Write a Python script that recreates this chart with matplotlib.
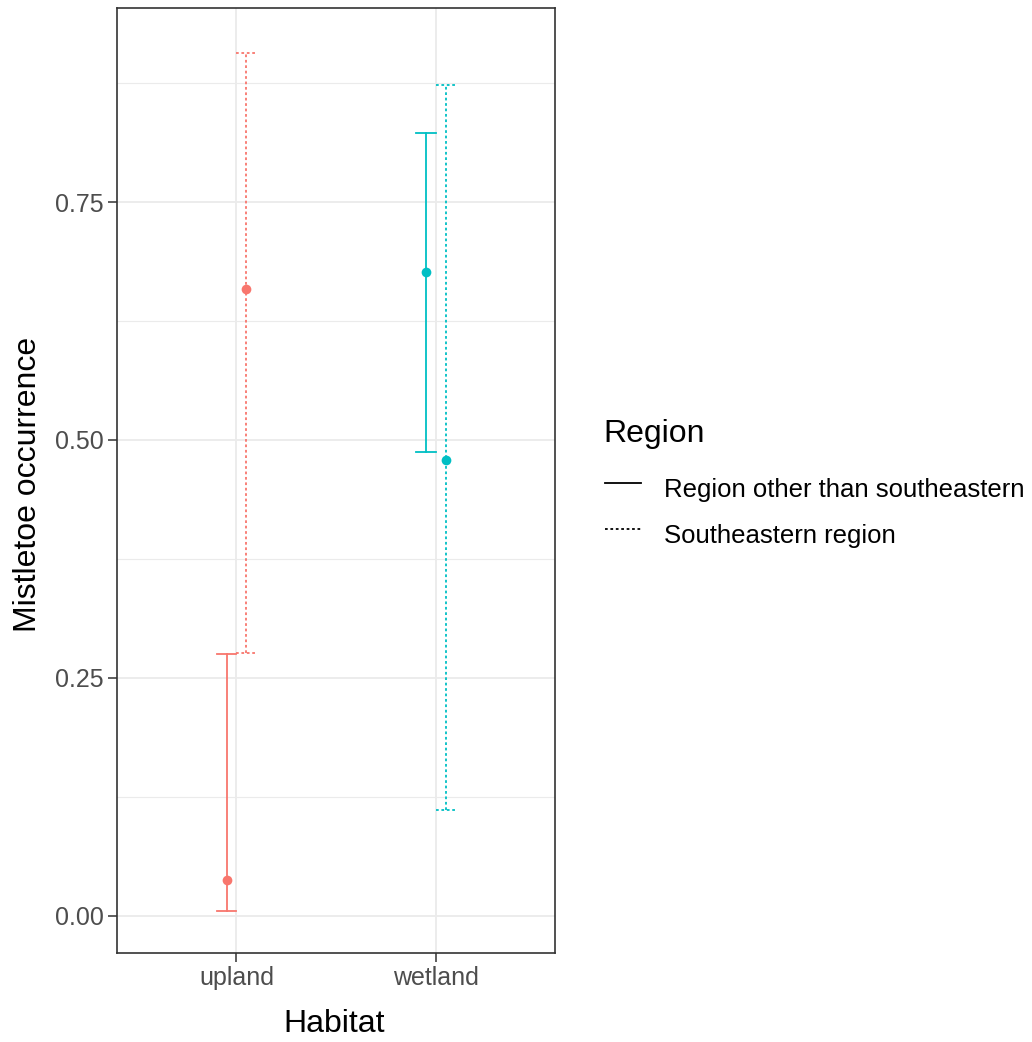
import matplotlib
matplotlib.use("Agg")
import matplotlib.pyplot as plt
from matplotlib.lines import Line2D
import numpy as np

plt.rcParams['font.family'] = ['Liberation Sans', 'DejaVu Sans']

habitats = ["upland", "wetland"]
regions = ["Region other than southeastern", "Southeastern region"]
habitat_colors = ["#F8766D", "#00BFC4"]
region_styles = ["solid", "dotted"]

# estimates [habitat][region]
fit = [[0.038, 0.659], [0.676, 0.479]]
lower = [[0.005, 0.276], [0.487, 0.111]]
upper = [[0.275, 0.907], [0.823, 0.873]]

W, H = 1032, 1042
fig = plt.figure(figsize=(W / 100, H / 100), dpi=100)
ax = fig.add_axes([117 / W, (H - 953) / H, (555 - 117) / W, (953 - 8) / H])

dodge = 0.05
cap = 0.05
DOT = (0, (1.5, 1.5))
for hi, h in enumerate(habitats):
    for ri, r in enumerate(regions):
        x = hi + 1 + (ri - 0.5) * 2 * dodge
        col = habitat_colors[hi]
        ls = DOT if region_styles[ri] == "dotted" else "-"
        ax.plot([x, x], [lower[hi][ri], upper[hi][ri]], color=col, lw=1.3, ls=ls, zorder=3)
        for yv in (lower[hi][ri], upper[hi][ri]):
            ax.plot([x - cap, x + cap], [yv, yv], color=col, lw=1.3, ls=ls, zorder=3)
        ax.plot([x], [fit[hi][ri]], 'o', color=col, ms=7, mec='none', zorder=4)

ax.set_xlim(0.4, 2.6)
ax.set_ylim(-0.0389, 0.9538)
ax.set_xticks([1, 2])
ax.set_xticklabels(habitats)
ax.set_yticks([0, 0.25, 0.5, 0.75])
ax.set_yticklabels(["0.00", "0.25", "0.50", "0.75"])
ax.set_yticks([0.125, 0.375, 0.625, 0.875], minor=True)
ax.grid(True, which='major', color='#EBEBEB', lw=1.3, zorder=0)
ax.grid(True, which='minor', axis='y', color='#EBEBEB', lw=0.8, zorder=0)
ax.set_axisbelow(True)
for s in ax.spines.values():
    s.set_color('#333333')
    s.set_linewidth(1.2)
ax.tick_params(axis='both', which='major', length=6.5, width=1.1, color='#333333',
               labelcolor='#4D4D4D', labelsize=18, pad=3)
ax.tick_params(axis='both', which='minor', length=0)
ax.set_xlabel("Habitat", fontsize=23, color='black', va='baseline')
ax.xaxis.set_label_coords(0.495, (953 - 1032) / 945)
ax.set_ylabel("Mistletoe occurrence", fontsize=23, color='black', va='center')
ax.yaxis.set_label_coords((28 - 117) / 438, 0.496)

# legend
fig.text(603 / W, 1 - 442 / H, "Region", fontsize=23, va='baseline', ha='left')
for i, (r, st) in enumerate(zip(regions, region_styles)):
    ykey = 1 - (483 + 46 * i) / H
    ybase = 1 - (497 + 46 * i) / H
    ls = DOT if st == "dotted" else "-"
    fig.add_artist(Line2D([605 / W, 641 / W], [ykey, ykey], color='black', lw=1.3, ls=ls,
                          transform=fig.transFigure))
    fig.text(664 / W, ybase, r, fontsize=18.5, va='baseline', ha='left')

fig.savefig("out.png", dpi=100)
